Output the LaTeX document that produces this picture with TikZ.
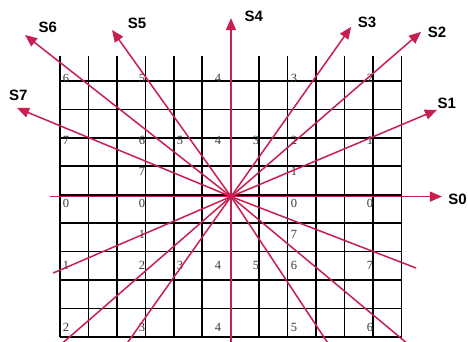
\documentclass[tikz,border=0pt]{standalone}
\usepackage{xcolor}
\usepackage{fontspec}
\usepackage{tikz}
\usetikzlibrary{arrows.meta}
\newfontfamily\lblfont{Liberation Sans}
\newfontfamily\numfont{Liberation Serif}
\definecolor{kred}{HTML}{C81E50}
\definecolor{kgrey}{HTML}{3A3A3A}

\begin{document}
\begin{tikzpicture}[x=38pt, y=31.2pt,
  ray/.style={kred, line width=1.5pt},
  tip/.style={ray, -{Triangle[length=12pt, width=10pt]}},
  lbl/.style={font=\fontsize{15}{15}\selectfont\lblfont\bfseries, text=black, inner sep=0pt},
  num/.style={font=\fontsize{12.5}{12.5}\numfont, text=kgrey, anchor=base west, inner sep=0pt}]
\clip (-1.579,-0.160) rectangle (10.737,10.801);
\fill[white] (-1.579,-0.160) rectangle (10.737,10.801);
\draw[black, line width=1.6pt] (0,0) grid (9,9);
% cell numbers, row by row from the top
\node[num] (n08) at (0.07,8.16) {6}; \node[num] (n28) at (2.07,8.16) {5};
\node[num] (n48) at (4.07,8.16) {4}; \node[num] (n68) at (6.07,8.16) {3};
\node[num] (n88) at (8.07,8.16) {2};
\node[num] (n06) at (0.07,6.16) {7}; \node[num] (n26) at (2.07,6.16) {6};
\node[num] (n36) at (3.07,6.16) {5}; \node[num] (n46) at (4.07,6.16) {4};
\node[num] (n56) at (5.07,6.16) {3}; \node[num] (n66) at (6.07,6.16) {2};
\node[num] (n86) at (8.07,6.16) {1};
\node[num] (n25) at (2.07,5.16) {7}; \node[num] (n65) at (6.07,5.16) {1};
\node[num] (n04) at (0.07,4.16) {0}; \node[num] (n24) at (2.07,4.16) {0};
\node[num] (n64) at (6.07,4.16) {0}; \node[num] (n84) at (8.07,4.16) {0};
\node[num] (n23) at (2.07,3.16) {1}; \node[num] (n63) at (6.07,3.16) {7};
\node[num] (n02) at (0.07,2.16) {1}; \node[num] (n22) at (2.07,2.16) {2};
\node[num] (n32) at (3.07,2.16) {3}; \node[num] (n42) at (4.07,2.16) {4};
\node[num] (n52) at (5.07,2.16) {5}; \node[num] (n62) at (6.07,2.16) {6};
\node[num] (n82) at (8.07,2.16) {7};
\node[num] (n00) at (0.07,0.16) {2}; \node[num] (n20) at (2.07,0.16) {3};
\node[num] (n40) at (4.07,0.16) {4}; \node[num] (n60) at (6.07,0.16) {5};
\node[num] (n80) at (8.07,0.16) {6};
% centre, arrow tips and free tails of the direction rays
\coordinate (c) at (4.5,4.5);
\coordinate (t0) at (10.05,4.50);  \coordinate (e0) at (-0.26,4.50);
\coordinate (t1) at (9.92,7.28);   \coordinate (e1) at (-0.18,2.05);
\coordinate (t2) at (9.50,9.78);   \coordinate (e2) at (-0.40,-0.69);
\coordinate (t3) at (7.66,9.94);   \coordinate (e3) at (1.65,-0.40);
\coordinate (t4) at (4.50,10.22);  \coordinate (e4) at (4.50,-0.40);
\coordinate (t5) at (1.37,9.84);   \coordinate (e5) at (7.16,-0.40);
\coordinate (t6) at (-0.92,9.68);  \coordinate (e6) at (9.33,-0.40);
\coordinate (t7) at (-1.13,7.34);  \coordinate (e7) at (9.37,2.21);
\draw[ray] (e0) -- (c); \draw[tip] (c) -- (t0);
\draw[ray] (e1) -- (c); \draw[tip] (c) -- (t1);
\draw[ray] (e2) -- (c); \draw[tip] (c) -- (t2);
\draw[ray] (e3) -- (c); \draw[tip] (c) -- (t3);
\draw[ray] (e4) -- (c); \draw[tip] (c) -- (t4);
\draw[ray] (e5) -- (c); \draw[tip] (c) -- (t5);
\draw[ray] (e6) -- (c); \draw[tip] (c) -- (t6);
\draw[ray] (e7) -- (c); \draw[tip] (c) -- (t7);
% direction labels
\node[lbl, anchor=east] (s0) at (10.71,4.42) {S0};
\node[lbl] (s1) at (10.18,7.50) {S1};
\node[lbl] (s2) at (9.92,9.78) {S2};
\node[lbl] (s3) at (8.08,10.10) {S3};
\node[lbl] (s4) at (5.10,10.29) {S4};
\node[lbl] (s5) at (2.03,10.06) {S5};
\node[lbl] (s6) at (-0.32,9.94) {S6};
\node[lbl] (s7) at (-1.10,7.76) {S7};
\end{tikzpicture}
\end{document}
